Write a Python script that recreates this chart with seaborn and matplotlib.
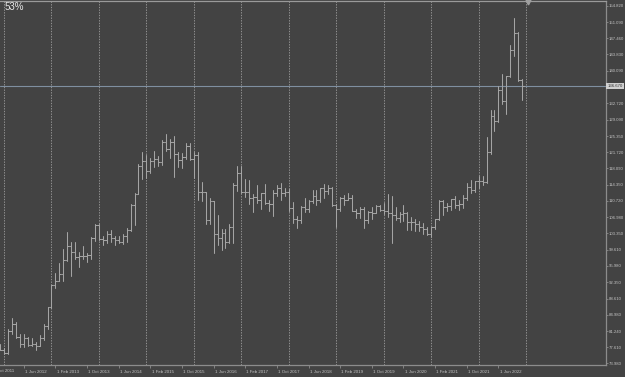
import numpy as np
import pandas as pd
import matplotlib
matplotlib.use("Agg")
import matplotlib.pyplot as plt
import seaborn as sns
from matplotlib import transforms

# ---------------- data (monthly OHLC, Dec 2011 .. Dec 2022) ----------------
start_month = "2011-12-01"
opens = [77.6,
    76.9, 76.2, 81.2, 82.9, 80.0, 78.4, 79.8, 78.1, 78.4, 77.9, 79.8, 82.5,
    86.7, 91.7, 92.6, 94.2, 97.4, 100.4, 99.1, 97.9, 98.2, 98.3, 98.4, 102.4,
    105.3, 102.0, 101.8, 103.2, 102.2, 101.8, 101.3, 102.8, 104.1, 109.7, 112.3, 118.6,
    119.8, 117.5, 119.6, 120.1, 119.4, 124.1, 122.4, 123.9, 121.2, 119.9, 120.6, 123.1,
    120.2, 121.1, 112.7, 112.6, 106.3, 110.7, 103.2, 102.4, 103.4, 101.3, 104.8, 114.4,
    117.0, 112.8, 112.7, 111.4, 111.5, 110.8, 112.4, 110.2, 110.1, 112.5, 113.6, 112.5,
    112.7, 109.2, 106.7, 106.3, 109.3, 108.8, 110.7, 111.9, 111.0, 113.7, 112.9, 113.5,
    109.7, 108.9, 111.4, 110.9, 111.4, 108.3, 107.9, 108.8, 106.3, 108.1, 108.0, 109.5,
    108.6, 108.4, 107.9, 107.5, 106.9, 107.8, 107.9, 105.9, 105.9, 105.5, 104.7, 104.3,
    103.2, 104.7, 106.6, 110.7, 109.3, 109.6, 111.1, 109.7, 110.0, 111.3, 113.9, 113.1,
    115.1, 115.1, 115.0, 121.7, 129.8, 128.7, 135.7, 133.2, 138.9, 144.7, 148.7, 138.0]
highs = [78.3,
    77.5, 81.7, 84.2, 83.3, 80.6, 80.6, 80.0, 79.6, 78.9, 80.3, 82.8, 86.6,
    91.7, 94.4, 96.7, 99.9, 103.7, 101.3, 101.5, 99.2, 100.6, 99.0, 102.6, 105.4,
    105.4, 102.8, 103.8, 104.1, 102.8, 102.8, 103.2, 104.5, 110.1, 112.5, 118.98, 121.85,
    121.0, 120.5, 122.0, 120.8, 124.5, 125.85, 124.6, 125.3, 121.7, 121.5, 123.8, 123.7,
    121.7, 121.7, 114.9, 112.7, 111.4, 110.7, 107.5, 104.3, 104.3, 105.5, 114.8, 118.66,
    118.6, 115.6, 115.5, 112.2, 114.4, 112.5, 114.5, 111.0, 113.2, 114.4, 114.7, 113.7,
    113.4, 110.5, 107.3, 109.6, 111.4, 111.0, 113.2, 113.2, 113.7, 114.5, 114.2, 113.8,
    109.9, 111.5, 112.1, 112.4, 112.0, 108.8, 109.3, 109.3, 108.5, 109.3, 109.7, 109.7,
    110.3, 112.2, 111.7, 109.4, 108.1, 109.85, 108.2, 107.05, 106.55, 106.1, 105.7, 104.75,
    104.9, 106.7, 110.97, 110.97, 110.2, 111.1, 111.7, 110.8, 112.1, 114.7, 115.5, 115.2,
    116.35, 116.3, 125.1, 131.25, 131.35, 136.7, 139.4, 139.0, 145.9, 151.95, 148.8, 138.2]
lows = [77.1,
    76.0, 76.1, 80.5, 79.8, 77.7, 77.6, 77.9, 78.0, 77.1, 77.9, 79.2, 81.7,
    86.5, 90.9, 92.5, 92.6, 97.1, 93.8, 97.6, 95.8, 97.5, 96.9, 97.6, 101.6,
    101.8, 100.8, 101.2, 101.4, 100.8, 101.2, 101.0, 101.5, 104.0, 105.2, 112.3, 115.6,
    115.9, 116.9, 118.3, 118.5, 118.9, 122.0, 120.4, 116.2, 118.4, 118.1, 120.2, 119.9,
    115.96, 110.99, 110.7, 105.5, 105.5, 99.0, 100.7, 99.5, 100.1, 101.2, 101.2, 112.9,
    112.5, 111.6, 110.1, 108.1, 110.2, 108.8, 110.0, 108.3, 107.3, 111.7, 110.8, 111.9,
    108.3, 105.6, 104.6, 105.7, 108.1, 108.1, 110.3, 109.8, 110.4, 111.4, 112.3, 109.6,
    104.9, 108.5, 109.7, 110.8, 108.3, 106.8, 106.8, 104.5, 105.7, 106.5, 107.9, 108.4,
    107.7, 107.0, 101.2, 106.4, 105.99, 106.1, 104.2, 104.2, 104.0, 104.0, 103.2, 102.9,
    102.6, 104.4, 106.4, 107.5, 108.3, 108.6, 109.1, 108.7, 109.1, 111.0, 112.5, 112.6,
    113.5, 114.2, 114.7, 121.3, 126.4, 128.6, 132.5, 130.4, 138.8, 143.5, 137.7, 133.6]
closes = [76.9,
    76.2, 81.2, 82.9, 80.0, 78.4, 79.8, 78.1, 78.4, 77.9, 79.8, 82.5, 86.7,
    91.7, 92.6, 94.2, 97.4, 100.4, 99.1, 97.9, 98.2, 98.3, 98.4, 102.4, 105.3,
    102.0, 101.8, 103.2, 102.2, 101.8, 101.3, 102.8, 104.1, 109.7, 112.3, 118.6, 119.8,
    117.5, 119.6, 120.1, 119.4, 124.1, 122.4, 123.9, 121.2, 119.9, 120.6, 123.1, 120.2,
    121.1, 112.7, 112.6, 106.3, 110.7, 103.2, 102.4, 103.4, 101.3, 104.8, 114.4, 117.0,
    112.8, 112.7, 111.4, 111.5, 110.8, 112.4, 110.2, 110.1, 112.5, 113.6, 112.5, 112.7,
    109.2, 106.7, 106.3, 109.3, 108.8, 110.7, 111.9, 111.0, 113.7, 112.9, 113.5, 109.7,
    108.9, 111.4, 110.9, 111.4, 108.3, 107.9, 108.8, 106.3, 108.1, 108.0, 109.5, 108.6,
    108.4, 107.9, 107.5, 106.9, 107.8, 107.9, 105.9, 105.9, 105.5, 104.7, 104.3, 103.2,
    104.7, 106.6, 110.7, 109.3, 109.6, 111.1, 109.7, 110.0, 111.3, 113.9, 113.1, 115.1,
    115.1, 115.0, 121.7, 129.8, 128.7, 135.7, 133.2, 138.9, 144.7, 148.7, 138.0, 136.67]

current_price = 136.67
zoom_label = "53%"
xtick_dates = ["2011-10-01", "2012-06-01", "2013-02-01", "2013-10-01", "2014-06-01",
               "2015-02-01", "2015-10-01", "2016-06-01", "2017-02-01", "2017-10-01",
               "2018-06-01", "2019-02-01", "2019-10-01", "2020-06-01", "2021-02-01",
               "2021-10-01", "2022-06-01"]
ytick_values = [73.980, 77.610, 81.240, 84.980, 88.610, 92.350, 95.980, 99.610,
                103.350, 106.980, 110.720, 114.350, 118.090, 121.720, 125.350,
                129.090, 132.720, 140.090, 143.830, 147.460, 151.090, 154.820]
grid_years = list(range(2012, 2024))

# ---------------- helpers ----------------
origin = pd.Timestamp("2012-01-01")

def month_index(ts):
    ts = pd.Timestamp(ts)
    return (ts.year - origin.year) * 12 + (ts.month - origin.month)

months = pd.date_range(start_month, periods=len(opens), freq="MS")
xs = np.array([month_index(m) for m in months], dtype=float)

# build segments for OHLC bars (long form for seaborn)
tick = 0.42
rows = []
u = 0
for x, o, h, l, c in zip(xs, opens, highs, lows, closes):
    rows += [(x, l, u), (x, h, u)]; u += 1
    rows += [(x - tick, o, u), (x, o, u)]; u += 1
    rows += [(x, c, u), (x + tick, c, u)]; u += 1
seg = pd.DataFrame(rows, columns=["x", "y", "unit"])

# ---------------- style ----------------
bg = "#434343"
bar_color = "#a4a4a4"
axis_color = "#8c8c8c"
text_color = "#c4c4c4"

sns.set_style("dark", {"axes.facecolor": bg, "figure.facecolor": bg})
plt.rcParams["font.family"] = ["Liberation Sans", "DejaVu Sans"]

W, H = 625, 377
fig = plt.figure(figsize=(W / 100, H / 100), dpi=100)
fig.patch.set_facecolor(bg)
ax = fig.add_axes([0, 12 / H, 606 / W, 364 / H])
ax.set_facecolor(bg)

# year grid lines
for yr in grid_years:
    ax.axvline(month_index(f"{yr}-01-01"), color="#a0a0a0", lw=0.6,
               ls=(0, (1.6, 1.6)), zorder=1)

sns.lineplot(data=seg, x="x", y="y", units="unit", estimator=None, sort=False,
             color=bar_color, linewidth=0.75, ax=ax, legend=False, zorder=3)

# current price line
ax.axhline(current_price, color="#7f8fa0", lw=0.8, zorder=2)

xlim = (-1.01, 152.2)
ax.set_xlim(*xlim)
ax.set_ylim(73.6, 155.88)
ax.set_xlabel("")
ax.set_ylabel("")

# spines
ax.spines["left"].set_visible(False)
for s in ["top", "right", "bottom"]:
    ax.spines[s].set_visible(True)
    ax.spines[s].set_color(axis_color)
    ax.spines[s].set_linewidth(0.9)
ax.spines["top"].set_color("#9a9a9a")

# y ticks on right
ax.yaxis.tick_right()
ax.set_yticks(ytick_values)
ax.set_yticklabels([f"{v:.3f}" for v in ytick_values])
ax.tick_params(axis="y", direction="out", length=1.5, width=0.6, color=axis_color,
               labelsize=3.05, labelcolor=text_color, pad=0.6, right=True, left=False)

# x ticks: in-range ones via the axis, the partially hidden first one as text
xt_all = [month_index(d) for d in xtick_dates]
lbl_all = [pd.Timestamp(d).strftime("1 %b %Y") for d in xtick_dates]
xt = [x for x in xt_all if x >= xlim[0]]
lbl = [l for x, l in zip(xt_all, lbl_all) if x >= xlim[0]]
ax.set_xticks(xt)
ax.set_xticklabels(lbl)
ax.tick_params(axis="x", direction="out", length=2.0, width=0.6, color=axis_color,
               labelsize=3.2, labelcolor=text_color, pad=1.5, bottom=True)
offset = transforms.ScaledTranslation(1.2 / 100, 0, fig.dpi_scale_trans)
for lab in ax.get_xticklabels():
    lab.set_horizontalalignment("left")
    lab.set_transform(lab.get_transform() + offset)
xtr = transforms.blended_transform_factory(ax.transData, ax.transAxes) + offset
for x, l in zip(xt_all, lbl_all):
    if x < xlim[0]:
        ax.text(x, 0, l, transform=xtr, ha="left", va="top", fontsize=3.2,
                color=text_color, clip_on=False,
                bbox=None).set_transform(
                    xtr + transforms.ScaledTranslation(0, -3.6 / 100, fig.dpi_scale_trans))

# current price label
tr = transforms.blended_transform_factory(ax.transAxes, ax.transData)
ax.text(1.002, current_price, f"{current_price:.3f}", transform=tr, ha="left",
        va="center", fontsize=3.05, color="#303030", clip_on=False, zorder=6,
        bbox=dict(boxstyle="square,pad=0.25", facecolor="#d0d0d0", edgecolor="none"))

# chart-shift marker at top
ax.plot([month_index("2023-01-01") + 0.5], [155.6], marker="v", ms=3.5,
        color="#a0a0a0", clip_on=False, zorder=6)

# zoom label
fig.text(5 / W, 1 - 7 / H, zoom_label, ha="left", va="center", fontsize=7,
         color="#e8e8e8")

fig.savefig("out.png", dpi=100, facecolor=bg)
